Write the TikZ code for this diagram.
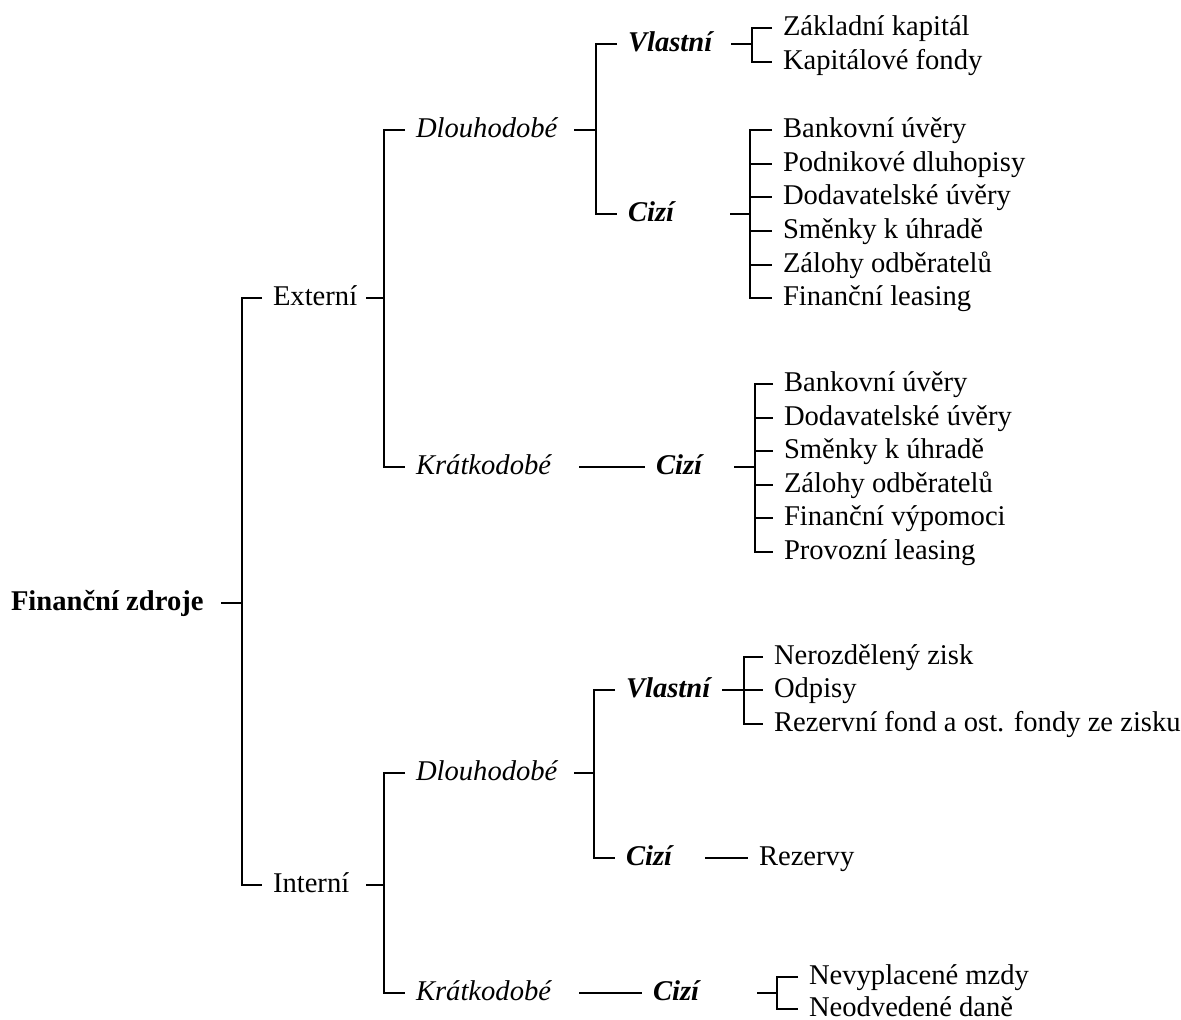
\documentclass[tikz,border=0pt]{standalone}
\usepackage{fontspec}
\setmainfont{Liberation Serif}

\begin{document}
\begin{tikzpicture}[x=0.5pt,y=-0.5pt,line width=1pt,
  item/.style={anchor=west,inner sep=5pt,text height=10.3pt,text depth=2.4pt,
    font=\fontsize{14.3}{17}\selectfont},
  root/.style={item,font=\fontsize{14.3}{17}\selectfont\bfseries},
  term/.style={item,font=\fontsize{14.3}{17}\selectfont\itshape},
  kind/.style={item,font=\fontsize{14.3}{17}\selectfont\bfseries\itshape}]
  \useasboundingbox (0,0) rectangle (1181,1020);

  % levels 0--3
  \node[root] (fz) at (0,603) {Finanční zdroje};
  \node[item] (ext) at (262,298) {Externí};
  \node[item] (int) at (262,885) {Interní};
  \node[term] (edl) at (405,130) {Dlouhodobé};
  \node[term] (ekr) at (405,467) {Krátkodobé};
  \node[term] (idl) at (405,773) {Dlouhodobé};
  \node[term] (ikr) at (405,993) {Krátkodobé};
  \node[kind] (evl) at (617,44) {Vlastní};
  \node[kind] (eci) at (617,214) {Cizí};
  \node[kind] (ekc) at (645,467) {Cizí};
  \node[kind] (ivl) at (615,690) {Vlastní};
  \node[kind] (ici) at (615,858) {Cizí};
  \node[kind] (ikc) at (642,993) {Cizí};

  % leaves
  \node[item] (ev1) at (772,28) {Základní kapitál};
  \node[item] (ev2) at (772,62) {Kapitálové fondy};
  \node[item] (ec1) at (772,130) {Bankovní úvěry};
  \node[item] (ec2) at (772,164) {Podnikové dluhopisy};
  \node[item] (ec3) at (772,197) {Dodavatelské úvěry};
  \node[item] (ec4) at (772,231) {Směnky k úhradě};
  \node[item] (ec5) at (772,265) {Zálohy odběratelů};
  \node[item] (ec6) at (772,298) {Finanční leasing};
  \node[item] (ek1) at (773,384) {Bankovní úvěry};
  \node[item] (ek2) at (773,418) {Dodavatelské úvěry};
  \node[item] (ek3) at (773,451) {Směnky k úhradě};
  \node[item] (ek4) at (773,485) {Zálohy odběratelů};
  \node[item] (ek5) at (773,518) {Finanční výpomoci};
  \node[item] (ek6) at (773,552) {Provozní leasing};
  \node[item] (iv1) at (763,657) {Nerozdělený zisk};
  \node[item] (iv2) at (763,690) {Odpisy};
  \node[item] (iv3) at (763,724) {Rezervní fond a ost. fondy ze zisku};
  \node[item] (rez) at (748,858) {Rezervy};
  \node[item] (ik1) at (798,977) {Nevyplacené mzdy};
  \node[item] (ik2) at (798,1009) {Neodvedené daně};

  % bracket spines
  \coordinate (s0) at (242,603);
  \coordinate (s1) at (384,298);
  \coordinate (s2) at (384,885);
  \coordinate (s3) at (596,130);
  \coordinate (s4) at (594,773);
  \coordinate (s5) at (752,44);
  \coordinate (s6) at (750,214);
  \coordinate (s7) at (755,467);
  \coordinate (s8) at (744,690);
  \coordinate (s9) at (777,993);

  \draw (ext.west) -| (s0) |- (int.west);
  \draw (edl.west) -| (s1) |- (ekr.west);
  \draw (idl.west) -| (s2) |- (ikr.west);
  \draw (evl.west) -| (s3) |- (eci.west);
  \draw (ivl.west) -| (s4) |- (ici.west);
  \draw (ev1.west) -| (s5) |- (ev2.west);
  \draw (ec1.west) -| (s6) |- (ec6.west);
  \draw (ek1.west) -| (s7) |- (ek6.west);
  \draw (iv1.west) -| (s8) |- (iv3.west);
  \draw (ik1.west) -| (s9) |- (ik2.west);
  \foreach \n in {ec2,ec3,ec4,ec5} \draw (s6 |- \n.west) -- (\n.west);
  \foreach \n in {ek2,ek3,ek4,ek5} \draw (s7 |- \n.west) -- (\n.west);
  \draw (s8 |- iv2.west) -- (iv2.west);

  % stubs from the parents
  \foreach \s/\l in {s0/21,s1/18,s2/18,s3/22,s4/20,s5/21,s6/20,s7/21,s8/22,s9/20}
    \draw (\s) -- ++(-\l,0);

  % single links
  \draw[shorten <=8.5pt] (ekr.east) -- (ekc.west);
  \draw[shorten <=8.5pt] (ikr.east) -- (ikc.west);
  \draw[shorten <=11pt] (ici.east) -- (rez.west);
\end{tikzpicture}
\end{document}
